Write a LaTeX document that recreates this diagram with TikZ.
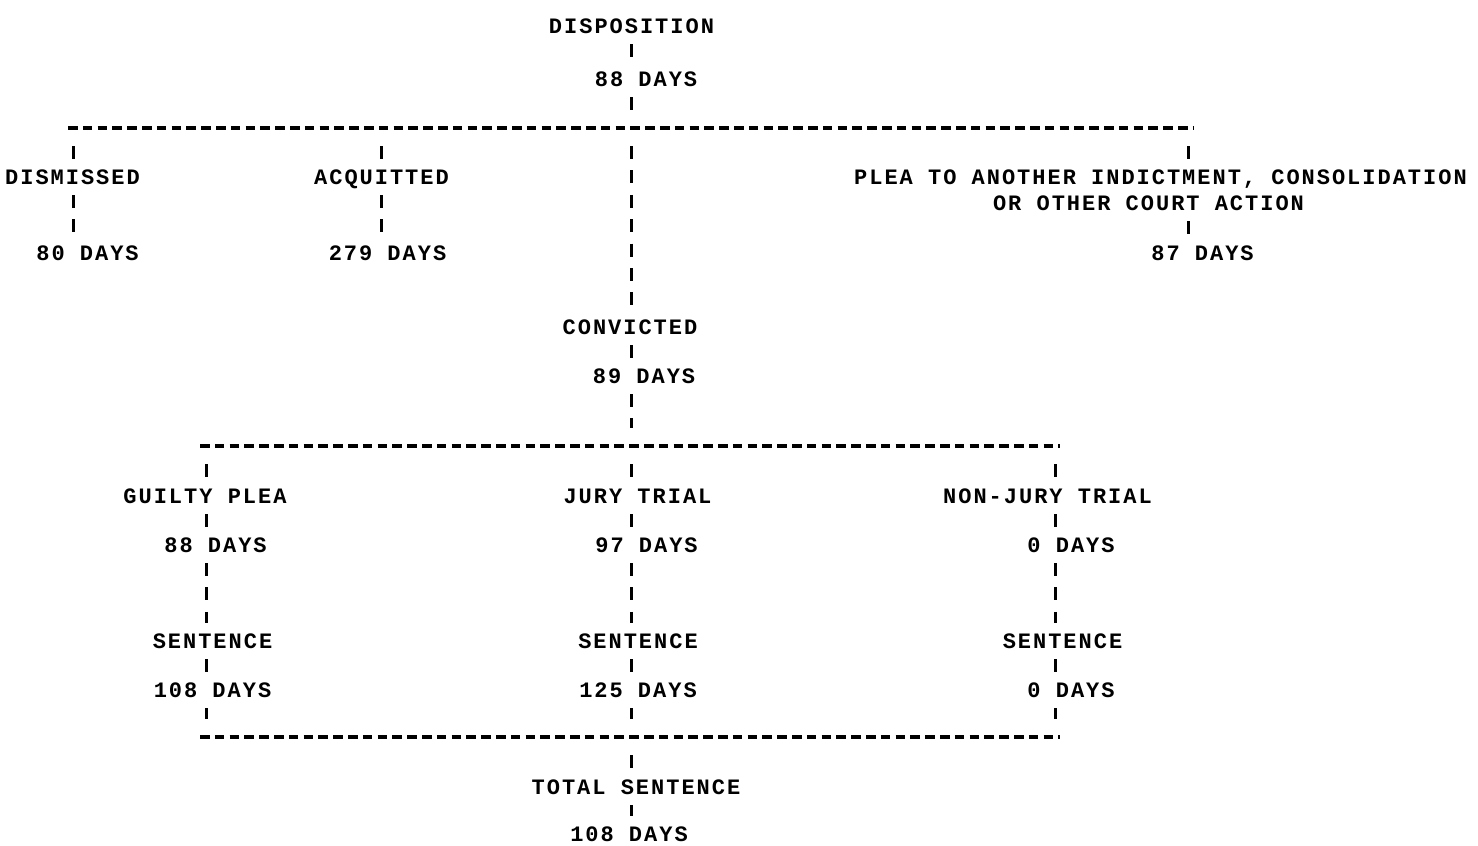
\documentclass[tikz,border=0pt]{standalone}
\usepackage{fontspec}
\newfontfamily\prt[LetterSpace=9]{Liberation Mono}
\tikzset{
  txt/.style={font=\prt\bfseries\fontsize{22pt}{26pt}\selectfont, inner sep=0pt, text depth=0pt, text=black},
  vbar/.style={line width=3pt, dash pattern=on 13pt off 11.4pt, shorten <=18pt, shorten >=18pt, black},
  bus/.style={line width=4pt, dash pattern=on 9.5pt off 5.3pt, black}
}
\begin{document}
\begin{tikzpicture}[x=1pt,y=-1pt]
\useasboundingbox (0,0) rectangle (1478,846);
\fill[white] (0,0) rectangle (1478,846);
% columns of the vertical connectors
\coordinate (cA) at (73,0);
\coordinate (cB) at (381,0);
\coordinate (cC) at (631,0);
\coordinate (cD) at (1188,0);
\coordinate (cE) at (206,0);
\coordinate (cF) at (1055,0);
% bus rows
\coordinate (tb) at (631,128);
\coordinate (lb) at (631,446);
\coordinate (bb) at (631,737);
% texts
\node[txt] (disp) at (631.5,26) {DISPOSITION};
\node[txt] (d88) at (646,79) {88 DAYS};
\node[txt] (dis) at (72.5,177) {DISMISSED};
\node[txt] (d80) at (87.5,253) {80 DAYS};
\node[txt] (acq) at (381.5,177) {ACQUITTED};
\node[txt] (d279) at (387.5,253) {279 DAYS};
\node[txt] (plea1) at (1160.5,177) {PLEA TO ANOTHER INDICTMENT, CONSOLIDATION};
\node[txt] (plea2) at (1148.5,203) {OR OTHER COURT ACTION};
\node[txt] (d87) at (1202.5,253) {87 DAYS};
\node[txt] (conv) at (630,327) {CONVICTED};
\node[txt] (d89) at (644,376) {89 DAYS};
\node[txt] (guilty) at (205,496) {GUILTY PLEA};
\node[txt] (jury) at (637.5,496) {JURY TRIAL};
\node[txt] (nonjury) at (1047.5,496) {NON-JURY TRIAL};
\node[txt] (g88) at (215.5,545) {88 DAYS};
\node[txt] (j97) at (646.5,545) {97 DAYS};
\node[txt] (n0) at (1071,545) {0 DAYS};
\node[txt] (gs) at (212.5,641) {SENTENCE};
\node[txt] (js) at (638,641) {SENTENCE};
\node[txt] (ns) at (1062.5,641) {SENTENCE};
\node[txt] (g108) at (212.5,690) {108 DAYS};
\node[txt] (j125) at (638,690) {125 DAYS};
\node[txt] (n0b) at (1071,690) {0 DAYS};
\node[txt] (total) at (636,787) {TOTAL SENTENCE};
\node[txt] (t108) at (629,834) {108 DAYS};
% buses
\draw[bus] ([xshift=-5pt]cA |- tb) -- ([xshift=5pt]cD |- tb);
\draw[bus] ([xshift=-6pt]cE |- lb) -- ([xshift=5pt]cF |- lb);
\draw[bus] ([xshift=-6pt]cE |- bb) -- ([xshift=5pt]cF |- bb);
% vertical connectors
\draw[vbar] (cC |- disp) -- (cC |- d88);
\draw[vbar] (cC |- d88) -- (tb);
\draw[vbar] (cA |- tb) -- (cA |- dis);
\draw[vbar] (cA |- dis) -- (cA |- d80);
\draw[vbar] (cB |- tb) -- (cB |- acq);
\draw[vbar] (cB |- acq) -- (cB |- d279);
\draw[vbar] (tb) -- (cC |- conv);
\draw[vbar] (cD |- tb) -- (cD |- plea1);
\draw[vbar] (cD |- plea2) -- (cD |- d87);
\draw[vbar] (cC |- conv) -- (cC |- d89);
\draw[vbar] (cC |- d89) -- (lb);
\draw[vbar] (cE |- lb) -- (cE |- guilty);
\draw[vbar] (cE |- guilty) -- (cE |- g88);
\draw[vbar] (cE |- g88) -- (cE |- gs);
\draw[vbar] (cE |- gs) -- (cE |- g108);
\draw[vbar] (cE |- g108) -- (cE |- bb);
\draw[vbar] (lb) -- (cC |- jury);
\draw[vbar] (cC |- jury) -- (cC |- j97);
\draw[vbar] (cC |- j97) -- (cC |- js);
\draw[vbar] (cC |- js) -- (cC |- j125);
\draw[vbar] (cC |- j125) -- (bb);
\draw[vbar] (cF |- lb) -- (cF |- nonjury);
\draw[vbar] (cF |- nonjury) -- (cF |- n0);
\draw[vbar] (cF |- n0) -- (cF |- ns);
\draw[vbar] (cF |- ns) -- (cF |- n0b);
\draw[vbar] (cF |- n0b) -- (cF |- bb);
\draw[vbar] (bb) -- (cC |- total);
\draw[vbar] (cC |- total) -- (cC |- t108);
\end{tikzpicture}
\end{document}
